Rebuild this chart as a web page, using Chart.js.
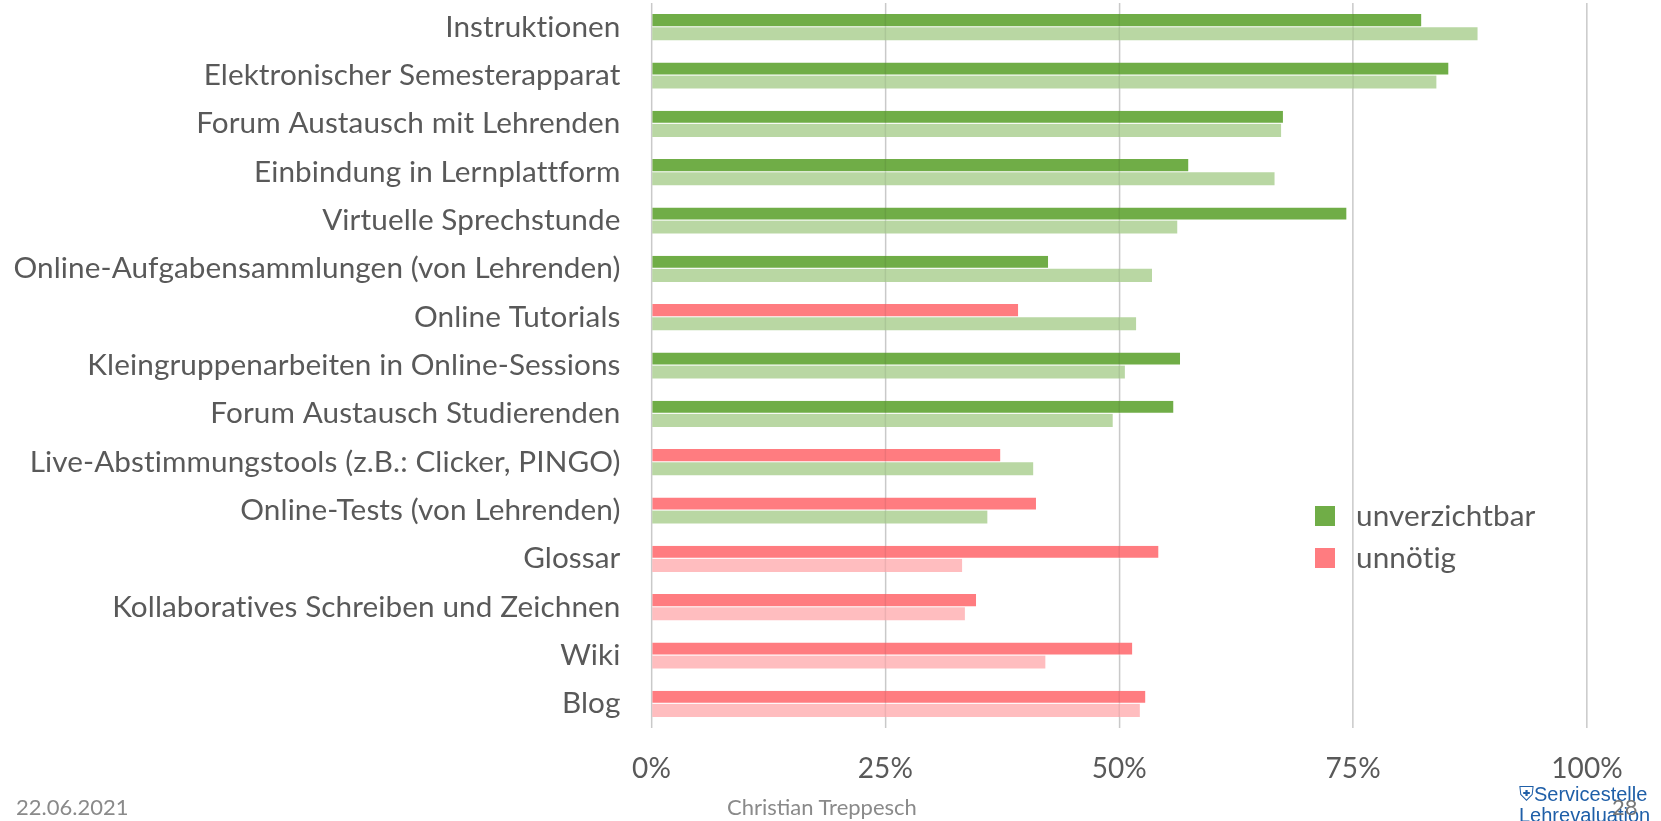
<!DOCTYPE html>
<html>
<head>
<meta charset="utf-8">
<script src="https://cdn.jsdelivr.net/npm/chart.js@4"></script>
<style>
  html, body { margin: 0; padding: 0; background: #fff; }
  #wrap { position: relative; width: 1661px; height: 821px; overflow: hidden; }
  #chart { position: absolute; left: 0; top: 0; }
  .foot { position: absolute; font-family: Lato, sans-serif; color: #8a8a8a; font-size: 22px; }
  #logo { position: absolute; left: 1519px; top: 784px; font-family: "Liberation Sans Narrow", "Liberation Sans", sans-serif; color: #1f5fa8; font-size: 20px; line-height: 21px; }
</style>
</head>
<body>
<div id="wrap">
  <canvas id="chart" width="1661" height="821"></canvas>
  <div class="foot" style="left:16px; top:793px;">22.06.2021</div>
  <div class="foot" style="left:727px; top:793px;">Christian Treppesch</div>
  <div id="logo">&#9960;Servicestelle<br>Lehrevaluation</div>
  <div class="foot" style="left:1612px; top:793px; color:#777;">28</div>
</div>
<script>
// categories, top to bottom
var categories = [
    'Instruktionen',
    'Elektronischer Semesterapparat',
    'Forum Austausch mit Lehrenden',
    'Einbindung in Lernplattform',
    'Virtuelle Sprechstunde',
    'Online-Aufgabensammlungen (von Lehrenden)',
    'Online Tutorials',
    'Kleingruppenarbeiten in Online-Sessions',
    'Forum Austausch Studierenden',
    'Live-Abstimmungstools (z.B.: Clicker, PINGO)',
    'Online-Tests (von Lehrenden)',
    'Glossar',
    'Kollaboratives Schreiben und Zeichnen',
    'Wiki',
    'Blog'
];

// first bar per category (percent) and its rating
var valuesA = [82.3, 85.2, 67.5, 57.4, 74.3, 42.4, 39.2, 56.5, 55.8, 37.3, 41.1, 54.2, 34.7, 51.4, 52.8];
var ratingA = ['u', 'u', 'u', 'u', 'u', 'u', 'n', 'u', 'u', 'n', 'n', 'n', 'n', 'n', 'n'];

// second (comparison) bar per category and its rating
var valuesB = [88.3, 83.9, 67.3, 66.6, 56.2, 53.5, 51.8, 50.6, 49.3, 40.8, 35.9, 33.2, 33.5, 42.1, 52.2];
var ratingB = ['u', 'u', 'u', 'u', 'u', 'u', 'u', 'u', 'u', 'u', 'u', 'n', 'n', 'n', 'n'];

var xTicks = [0, 25, 50, 75, 100];
var legendLabels = { u: 'unverzichtbar', n: 'unnötig' };

var darkColor = { u: '#70ad47', n: '#ff7c80' };
var lightColor = { u: '#b9d7a3', n: '#ffbdbf' };
var textColor = '#595959';
var labelFont = 'Lato, "Open Sans", sans-serif';

// no ligatures (ti, ff) in canvas text
var noLigatures = {
    id: 'noLigatures',
    beforeDraw: function (chart) {
        if ('letterSpacing' in chart.ctx) chart.ctx.letterSpacing = '0.1px';
    }
};

// redraw faint grid lines on top of the bars
var gridOverlay = {
    id: 'gridOverlay',
    afterDatasetsDraw: function (chart) {
        var ctx = chart.ctx, x = chart.scales.x, area = chart.chartArea;
        ctx.save();
        ctx.strokeStyle = 'rgba(0,0,0,0.07)';
        ctx.lineWidth = 1.5;
        xTicks.forEach(function (t) {
            var px = x.getPixelForValue(t);
            ctx.beginPath();
            ctx.moveTo(px, area.top);
            ctx.lineTo(px, area.bottom);
            ctx.stroke();
        });
        ctx.restore();
    }
};

// legend with the two ratings
var ratingLegend = {
    id: 'ratingLegend',
    afterDraw: function (chart) {
        var ctx = chart.ctx;
        var keys = ['u', 'n'];
        ctx.save();
        ctx.font = '29.7px ' + labelFont;
        ctx.textBaseline = 'middle';
        keys.forEach(function (k, i) {
            var cy = 516 + i * 42;
            ctx.fillStyle = '#fff';
            ctx.fillRect(1355, cy - 18, 210, 36);
            ctx.fillStyle = darkColor[k];
            ctx.fillRect(1315, cy - 10, 20, 20);
            ctx.fillStyle = textColor;
            ctx.fillText(legendLabels[k], 1356, cy);
        });
        ctx.restore();
    }
};

var ctx = document.getElementById('chart').getContext('2d');
var chart = new Chart(ctx, {
    type: 'bar',
    data: {
        labels: categories,
        datasets: [{
            label: 'Wert',
            data: valuesA,
            backgroundColor: ratingA.map(function (r) { return darkColor[r]; }),
            borderColor: '#ffffff',
            borderWidth: { bottom: 1 },
            borderSkipped: false,
            categoryPercentage: 0.54,
            barPercentage: 1.0
        }, {
            label: 'Vergleich',
            data: valuesB,
            backgroundColor: ratingB.map(function (r) { return lightColor[r]; }),
            borderWidth: 0,
            categoryPercentage: 0.54,
            barPercentage: 1.0
        }]
    },
    options: {
        indexAxis: 'y',
        responsive: false,
        animation: false,
        layout: { padding: { top: 3, right: 74, left: 0, bottom: 0 } },
        plugins: {
            legend: { display: false },
            tooltip: { enabled: false }
        },
        scales: {
            x: {
                min: 0,
                max: 100,
                afterBuildTicks: function (scale) {
                    scale.ticks = xTicks.map(function (v) { return { value: v }; });
                },
                ticks: {
                    callback: function (v) { return v + '%'; },
                    color: textColor,
                    font: { family: labelFont, size: 28 },
                    padding: 24,
                    maxRotation: 0
                },
                grid: { color: '#d9d9d9', lineWidth: 1.5, drawTicks: false },
                border: { display: false },
                afterFit: function (scale) {
                    scale.height = 93;
                    scale.paddingLeft = 0;
                    scale.paddingRight = 0;
                }
            },
            y: {
                ticks: {
                    color: textColor,
                    font: { family: labelFont, size: 29.7 },
                    padding: 31,
                    autoSkip: false
                },
                grid: { display: false, drawTicks: false },
                border: { display: false },
                afterFit: function (scale) {
                    scale.width = 651.5;
                    scale.paddingTop = 0;
                    scale.paddingBottom = 0;
                }
            }
        }
    },
    plugins: [noLigatures, gridOverlay, ratingLegend]
});
</script>
</body>
</html>
